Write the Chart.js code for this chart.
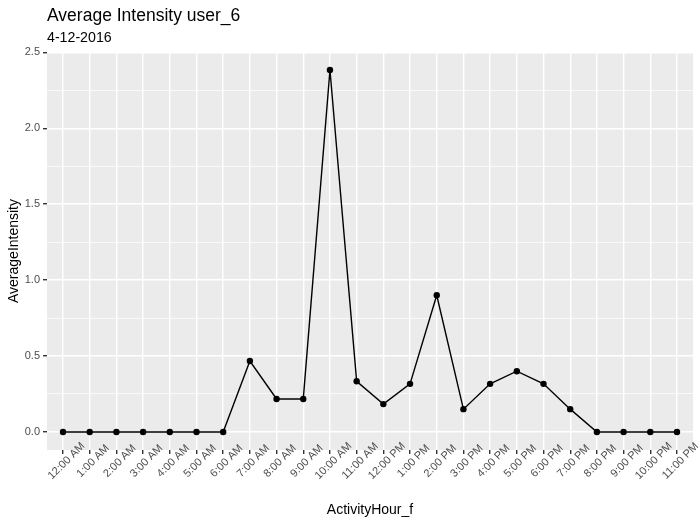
<!DOCTYPE html>
<html><head><meta charset="utf-8">
<script src="https://cdn.jsdelivr.net/npm/chart.js@4"></script>
<style>html,body{margin:0;padding:0;background:#fff}#wrap{width:700px;height:524px}</style>
</head><body><div id="wrap"><canvas id="c" width="700" height="524"></canvas></div>
<script>
const hours = ["12:00 AM","1:00 AM","2:00 AM","3:00 AM","4:00 AM","5:00 AM","6:00 AM","7:00 AM","8:00 AM","9:00 AM","10:00 AM","11:00 AM","12:00 PM","1:00 PM","2:00 PM","3:00 PM","4:00 PM","5:00 PM","6:00 PM","7:00 PM","8:00 PM","9:00 PM","10:00 PM","11:00 PM"];
const avgIntensity = [0,0,0,0,0,0,0,0.4667,0.2167,0.2167,2.3833,0.3333,0.1833,0.3167,0.9,0.15,0.3167,0.4,0.3167,0.15,0,0,0,0];
const yTickValues = [0,0.25,0.5,0.75,1,1.25,1.5,1.75,2,2.25,2.5];
const titleText = "Average Intensity user_6";
const subtitleText = "4-12-2016";
const xTitle = "ActivityHour_f";
const yTitle = "AverageIntensity";

const FONT = '"Liberation Sans", Arial, Helvetica, sans-serif';
Chart.defaults.font.family = FONT;
const isMajor = v => Math.abs(v*2 - Math.round(v*2)) < 1e-6;

const panelBg = {
  id: 'panelBg',
  beforeDraw(chart) {
    const {ctx, chartArea: a} = chart;
    ctx.save(); ctx.fillStyle = '#EBEBEB';
    ctx.fillRect(a.left, a.top, a.right - a.left, a.bottom - a.top);
    ctx.restore();
  },
  afterDraw(chart) {
    const {ctx, chartArea: a} = chart;
    ctx.save(); ctx.fillStyle = '#000'; ctx.textAlign = 'left'; ctx.textBaseline = 'alphabetic';
    ctx.font = '17.5px ' + FONT; ctx.fillText(titleText, a.left, 21);
    ctx.font = '14.2px ' + FONT; ctx.fillText(subtitleText, a.left, 42);
    // rotated x tick labels, centred on each tick like ggplot's angle = 45
    const xs = chart.scales.x;
    ctx.font = '11px ' + FONT; ctx.fillStyle = '#4D4D4D';
    ctx.textAlign = 'center'; ctx.textBaseline = 'middle';
    hours.forEach((h, i) => {
      const px = xs.getPixelForValue(i);
      ctx.save();
      ctx.translate(px + 3.5, a.bottom + 11);
      ctx.rotate(-Math.PI / 4);
      ctx.fillText(h, 0, 0);
      ctx.restore();
    });
    ctx.restore();
  }
};

new Chart(document.getElementById('c'), {
  type: 'line',
  data: { datasets: [{
    data: avgIntensity.map((v, i) => ({x: i, y: v})),
    borderColor: '#000', backgroundColor: '#000', borderWidth: 1.4,
    pointRadius: 3.2, pointBackgroundColor: '#000', pointBorderWidth: 0,
    tension: 0, fill: false
  }]},
  options: {
    responsive: false, animation: false,
    layout: { padding: { top: 52, right: 7, left: 0, bottom: 0 } },
    plugins: { legend: { display: false }, tooltip: { enabled: false } },
    scales: {
      x: {
        type: 'linear', min: -0.6, max: hours.length - 1 + 0.6,
        afterBuildTicks: s => { s.ticks = hours.map((h, i) => ({value: i})); },
        afterFit: s => { s.height = 74; },
        border: { display: false },
        grid: { color: '#FFFFFF', lineWidth: 1.4, tickColor: '#333333', tickLength: 4 },
        ticks: { display: false, autoSkip: false },
        title: { display: true, text: xTitle, color: '#000', font: { size: 14 }, padding: { top: 5, bottom: 5 } }
      },
      y: {
        min: -0.119, max: 2.502,
        afterBuildTicks: s => { s.ticks = yTickValues.map(v => ({value: v})); },
        afterFit: s => { s.width = 47; },
        border: { display: false },
        grid: {
          color: '#FFFFFF',
          lineWidth: c => isMajor(c.tick.value) ? 1.4 : 0.7,
          tickColor: c => isMajor(c.tick.value) ? '#333333' : 'rgba(0,0,0,0)',
          tickLength: 4
        },
        ticks: { padding: 3, color: '#4D4D4D', font: { size: 11 },
          callback: v => isMajor(v) ? v.toFixed(1) : '' },
        title: { display: true, text: yTitle, color: '#000', font: { size: 14 }, padding: { top: 6, bottom: 0 } }
      }
    }
  },
  plugins: [panelBg]
});
</script></body></html>
